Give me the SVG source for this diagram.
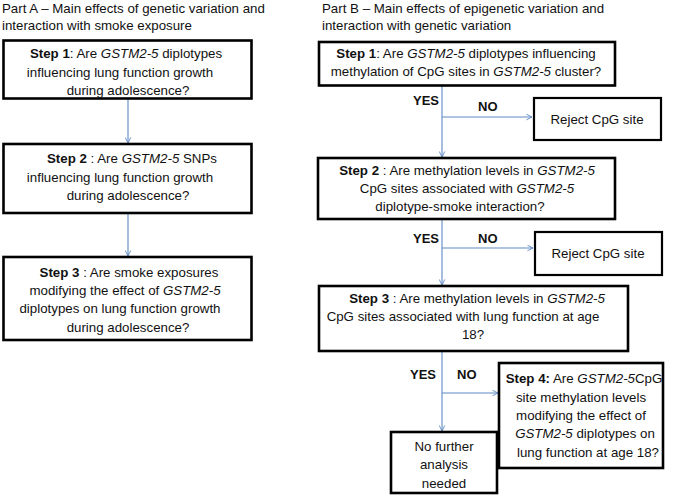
<svg xmlns="http://www.w3.org/2000/svg" width="685" height="496" viewBox="0 0 685 496">
<defs>
<style>
text{font-family:"Liberation Sans",Arial,sans-serif;font-size:13.3px;fill:#111}
.c{text-anchor:middle}
.b{font-weight:bold}
.i{font-style:italic}
.box{fill:#fff;stroke:#000;stroke-width:2.6}
.tb{fill:#fff;stroke:#000;stroke-width:2.2}
.con{fill:none;stroke:#5f8ac4;stroke-width:1.1}
.yn{font-weight:bold;font-size:13px}
</style>
<marker id="ah" viewBox="0 0 10 10" refX="9" refY="5" markerWidth="7" markerHeight="7" orient="auto" markerUnits="userSpaceOnUse">
<path d="M1,1 L9,5 L1,9" fill="none" stroke="#5f8ac4" stroke-width="1.3"/>
</marker>
</defs>
<rect width="685" height="496" fill="#fff"/>

<g id="titleA">
<text x="2" y="13">Part A – Main effects of genetic variation and</text>
<text x="2" y="30">interaction with smoke exposure</text>
</g>
<g id="titleB">
<text x="322" y="13">Part B – Main effects of epigenetic variation and</text>
<text x="322" y="30">interaction with genetic variation</text>
</g>

<g id="connectors">
<path class="con" d="M128,99 V143" marker-end="url(#ah)"/>
<path class="con" d="M128,213 V256" marker-end="url(#ah)"/>
<path class="con" d="M442,86 V157" marker-end="url(#ah)"/>
<path class="con" d="M442,117 H532" marker-end="url(#ah)"/>
<path class="con" d="M442,219 V285" marker-end="url(#ah)"/>
<path class="con" d="M442,248 H533" marker-end="url(#ah)"/>
<path class="con" d="M442,351 V431" marker-end="url(#ah)"/>
<path class="con" d="M442,393 H498" marker-end="url(#ah)"/>
</g>

<g id="labels">
<text class="yn" x="413" y="105">YES</text>
<text class="yn" x="478" y="111">NO</text>
<text class="yn" x="413" y="243">YES</text>
<text class="yn" x="478" y="243">NO</text>
<text class="yn" x="410" y="379">YES</text>
<text class="yn" x="457" y="379">NO</text>
</g>

<g id="A1">
<rect class="box" x="3.5" y="40.5" width="248" height="58"/>
<text class="c" x="126" y="58"><tspan class="b">Step 1</tspan>: Are <tspan class="i">GSTM2-5</tspan> diplotypes</text>
<text class="c" x="120" y="77">influencing lung function growth</text>
<text class="c" x="128" y="95">during adolescence?</text>
</g>
<g id="A2">
<rect class="box" x="3.5" y="144" width="248" height="69"/>
<text class="c" x="132" y="163"><tspan class="b">Step 2</tspan> : Are <tspan class="i">GSTM2-5</tspan> SNPs</text>
<text class="c" x="120" y="182">influencing lung function growth</text>
<text class="c" x="128" y="200">during adolescence?</text>
</g>
<g id="A3">
<rect class="box" x="3.5" y="257" width="248" height="83"/>
<text class="c" x="129" y="277"><tspan class="b">Step 3</tspan> : Are smoke exposures</text>
<text class="c" x="125" y="295">modifying the effect of <tspan class="i">GSTM2-5</tspan></text>
<text class="c" x="120" y="313">diplotypes on lung function growth</text>
<text class="c" x="128" y="332">during adolescence?</text>
</g>

<g id="B1">
<rect class="box" x="319" y="42" width="296" height="43.5"/>
<text class="c" x="466" y="58"><tspan class="b">Step 1</tspan>: Are <tspan class="i">GSTM2-5</tspan> diplotypes influencing</text>
<text class="c" x="466" y="76">methylation of CpG sites in <tspan class="i">GSTM2-5</tspan> cluster?</text>
</g>
<g id="R1">
<rect class="tb" x="534" y="98" width="127" height="42"/>
<text class="c" x="597" y="124">Reject CpG site</text>
</g>
<g id="B2">
<rect class="box" x="318" y="158" width="297" height="61"/>
<text class="c" x="467" y="175"><tspan class="b">Step 2</tspan> : Are methylation levels in <tspan class="i">GSTM2-5</tspan></text>
<text class="c" x="467" y="193">CpG sites associated with <tspan class="i">GSTM2-5</tspan></text>
<text class="c" x="460" y="211">diplotype-smoke interaction?</text>
</g>
<g id="R2">
<rect class="tb" x="535" y="232" width="127" height="43"/>
<text class="c" x="598" y="258">Reject CpG site</text>
</g>
<g id="B3">
<rect class="box" x="319" y="286" width="309" height="65"/>
<text class="c" x="477" y="303"><tspan class="b">Step 3</tspan> : Are methylation levels in <tspan class="i">GSTM2-5</tspan></text>
<text class="c" x="463" y="321">CpG sites associated with lung function at age</text>
<text class="c" x="473" y="339">18?</text>
</g>
<g id="B4">
<rect class="box" x="499" y="363" width="164" height="105"/>
<text class="c" x="584" y="383"><tspan class="b">Step 4:</tspan> Are <tspan class="i">GSTM2-5</tspan>CpG</text>
<text class="c" x="581" y="402">site methylation levels</text>
<text class="c" x="581" y="420">modifying the effect of</text>
<text class="c" x="585" y="438"><tspan class="i">GSTM2-5</tspan> diplotypes on</text>
<text class="c" x="588" y="457">lung function at age 18?</text>
</g>
<g id="NF">
<rect class="box" x="391" y="432" width="106" height="61"/>
<text class="c" x="444" y="451">No further</text>
<text class="c" x="444" y="469">analysis</text>
<text class="c" x="444" y="488">needed</text>
</g>
</svg>
